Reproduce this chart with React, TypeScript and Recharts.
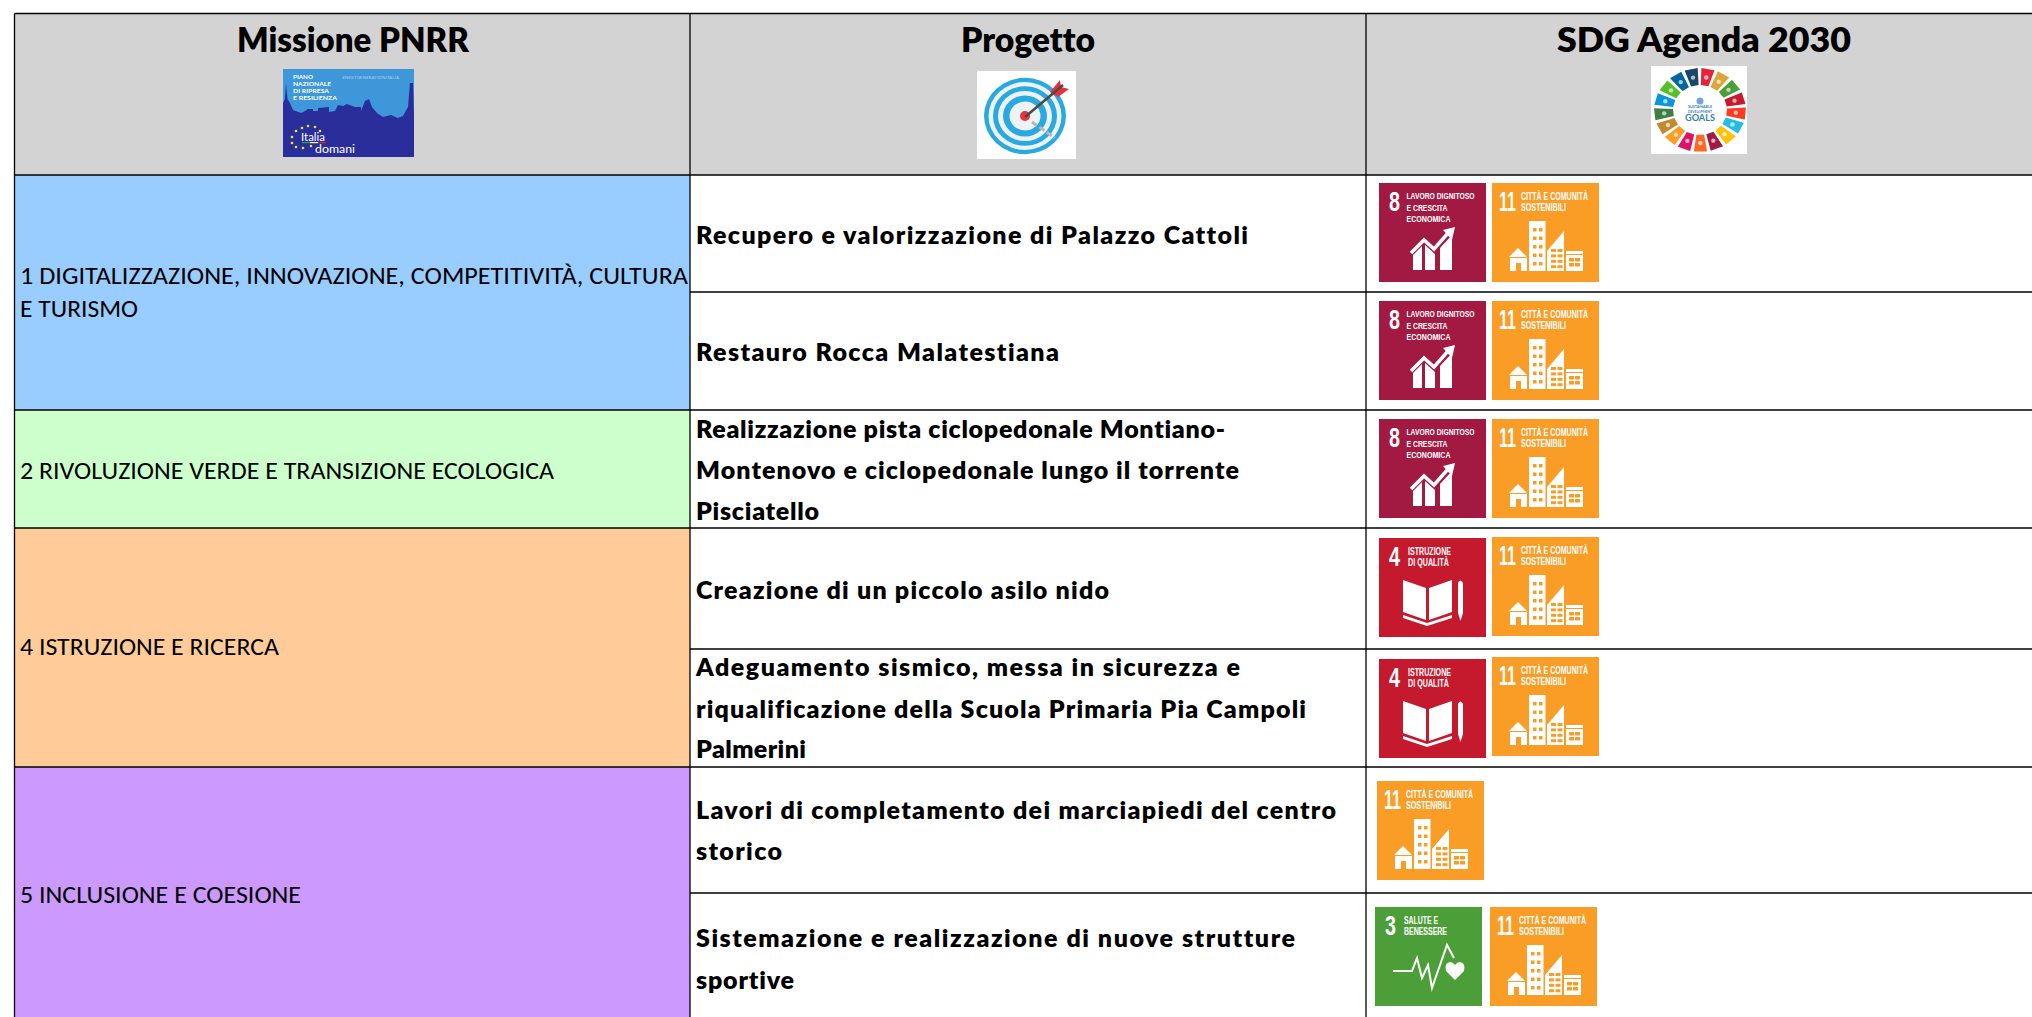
import React from "react";
import { ScatterChart, Scatter, XAxis, YAxis, ReferenceArea, ReferenceLine } from "recharts";

const W = 2032;
const H = 1017;
const HAND = "'Comic Sans MS', Lato, 'Open Sans', sans-serif";
const BODY = "Calibri, Carlito, Lato, sans-serif";
const NARROW = "'Liberation Sans Narrow', 'Liberation Sans', sans-serif";
const NO_LIGA = { fontVariantLigatures: "none" } as React.CSSProperties;

const columnEdges = [14.5, 690, 1366];
const rowEdges = [13.5, 175, 292, 410, 528, 649, 767, 893];
const missionEdges = [175, 410, 528, 767, 1017];

const headers = ["Missione PNRR", "Progetto", "SDG Agenda 2030"];
const headerX = [353, 1028, 1704];
const headerWidth = [232, 134, 294];

const missionColors = ["#99CCFF", "#CCFFCC", "#FFCC99", "#CC99FF"];
const missionLines = [
  "1 DIGITALIZZAZIONE, INNOVAZIONE, COMPETITIVITÀ, CULTURA",
  "E TURISMO",
  "2 RIVOLUZIONE VERDE E TRANSIZIONE ECOLOGICA",
  "4 ISTRUZIONE E RICERCA",
  "5 INCLUSIONE E COESIONE",
];
const missionY = [275, 308, 470, 646, 894];
const missionWidth = [668, 118, 534, 259, 281];

const projectLines = [
  "Recupero e valorizzazione di Palazzo Cattoli",
  "Restauro Rocca Malatestiana",
  "Realizzazione pista ciclopedonale Montiano-",
  "Montenovo e ciclopedonale lungo il torrente",
  "Pisciatello",
  "Creazione di un piccolo asilo nido",
  "Adeguamento sismico, messa in sicurezza e",
  "riqualificazione della Scuola Primaria Pia Campoli",
  "Palmerini",
  "Lavori di completamento dei marciapiedi del centro",
  "storico",
  "Sistemazione e realizzazione di nuove strutture",
  "sportive",
];
const projectY = [233.5, 351, 428, 469, 510, 589, 666, 708, 748, 809, 850, 937, 979];
const projectWidth = [552, 363, 529, 543, 123, 413, 544, 610, 110, 640, 86, 599, 98];

const tileGoals = [8, 11, 8, 11, 8, 11, 4, 11, 4, 11, 11, 3, 11];
const tileX = [1379, 1492, 1379, 1492, 1379, 1492, 1379, 1492, 1379, 1492, 1377, 1375, 1490];
const tileY = [183, 183, 301, 301, 419, 419, 538, 537, 659, 657, 781, 907, 907];

const goalColors: Record<number, string> = { 3: "#4C9F38", 4: "#C5192D", 8: "#A21942", 11: "#F99D26" };
const goalTitles: Record<number, string[]> = {
  3: ["SALUTE E", "BENESSERE"],
  4: ["ISTRUZIONE", "DI QUALITÀ"],
  8: ["LAVORO DIGNITOSO", "E CRESCITA", "ECONOMICA"],
  11: ["CITTÀ E COMUNITÀ", "SOSTENIBILI"],
};
const goalTitleWidth: Record<number, number[]> = {
  3: [34, 43],
  4: [43, 41],
  8: [68, 41, 44],
  11: [67, 45],
};

const wheelColors = [
  "#E5243B", "#DDA63A", "#4C9F38", "#C5192D", "#FF3A21", "#26BDE2", "#FCC30B", "#A21942", "#FD6925",
  "#DD1367", "#FD9D24", "#BF8B2E", "#3F7E44", "#0A97D9", "#56C02B", "#00689D", "#19486A",
];
const logoStars = [
  [37, 62], [32, 58], [25, 57], [19, 59], [13, 62], [9, 68], [9, 74], [13, 78], [20, 79], [28, 77],
];

const headerPoints = headers.map((label, i) => ({ x: headerX[i], y: 39, label, w: headerWidth[i] }));
const missionPoints = missionLines.map((label, i) => ({ x: 20, y: missionY[i], label, w: missionWidth[i] }));
const projectPoints = projectLines.map((label, i) => ({ x: 696, y: projectY[i], label, w: projectWidth[i] }));
const tilePoints = tileGoals.map((goal, i) => ({ x: tileX[i], y: tileY[i], goal }));
const logoPoints = [{ x: 283, y: 69 }];
const targetPoints = [{ x: 977, y: 71 }];
const wheelPoints = [{ x: 1651, y: 66 }];

const HeaderText = (p: any) => (
  <text x={p.cx} y={p.cy} textAnchor="middle" dominantBaseline="central" fontFamily={HAND} fontWeight={800}
    fontSize={33} fill="#000" style={NO_LIGA} textLength={p.payload.w} lengthAdjust="spacingAndGlyphs">{p.payload.label}</text>
);
const MissionText = (p: any) => (
  <text x={p.cx} y={p.cy} dominantBaseline="central" fontFamily={BODY} fontSize={24} fill="#000" style={NO_LIGA}
    textLength={p.payload.w} lengthAdjust="spacingAndGlyphs">{p.payload.label}</text>
);
const ProjectText = (p: any) => (
  <text x={p.cx} y={p.cy} dominantBaseline="central" fontFamily={HAND} fontWeight={800} fontSize={25} fill="#000"
    style={NO_LIGA} textLength={p.payload.w} lengthAdjust="spacing">{p.payload.label}</text>
);

const Buildings = () => (
  <g fill="#fff">
    <path d="M17 74 L26 65 L35 74 Z" />
    <path d="M18 75 H35 V88 H29 V80 H24 V88 H18 Z" />
    <rect x={37} y={38} width={16.5} height={50} />
    {[0, 1, 2, 3, 4].map((r) => [0, 1].map((c) => (
      <rect key={`${r}${c}`} x={41 + c * 6} y={45 + r * 8.5} width={3.5} height={3.5} fill="#F99D26" />
    )))}
    <path d="M55 88 V68 L72 48 V88 Z" />
    {[0, 1, 2, 3].map((r) => [0, 1].map((c) => (
      <rect key={`s${r}${c}`} x={59 + c * 6.5} y={66 + r * 5.4} width={5} height={3} fill="#F99D26" />
    )))}
    <rect x={74} y={68} width={17} height={20} />
    <rect x={74} y={71} width={17} height={1} fill="#F99D26" />
    {[0, 1].map((r) => [0, 1].map((c) => (
      <rect key={`t${r}${c}`} x={77 + c * 6} y={75 + r * 5} width={5} height={3.5} fill="#F99D26" />
    )))}
  </g>
);

const Growth = () => (
  <g>
    <path d="M34 87 V72 L43 63 V87 Z M46 87 V62 L56 71 V87 Z M61 87 V65 L73 52 V87 Z" fill="#fff" />
    <path d="M32 70 L45 57 L55 66 L70 49" fill="none" stroke="#fff" strokeWidth={3.5} />
    <path d="M64 47 L76 44 L73 57 Z" fill="#fff" />
  </g>
);

const Book = () => (
  <g fill="#fff">
    <path d="M24 42 L47 50 V82 L24 74 Z" />
    <path d="M50 50 L73 42 V74 L50 82 Z" />
    <path d="M24 77 L48 85 L73 77 V80 L48 88 L24 80 Z" />
    <path d="M79 45 Q81 40 84 45 V75 L81.5 83 L79 75 Z" />
  </g>
);

const Pulse = () => (
  <g>
    <path d="M18 64 H37 L42 51 L47 71 L53 58 L57 81 L72 38 L79 51" fill="none" stroke="#fff" strokeWidth={2} />
    <path d="M80 73 L71 64 Q69 56 75 55 Q78 55 80 58 Q82 55 85 55 Q91 56 89 64 Z" fill="#fff" />
  </g>
);

const Tile = (p: any) => {
  const goal: number = p.payload.goal;
  const lines = goalTitles[goal];
  const titleX = goal === 8 ? 27.5 : 29;
  return (
    <g transform={`translate(${p.cx} ${p.cy})`}>
      <rect width={107} height={99} fill={goalColors[goal]} />
      <text x={goal === 11 ? 7 : 10} y={18.5} dominantBaseline="central" fontFamily={NARROW}
        fontWeight={700} fontSize={27} fill="#fff" textLength={goal === 11 ? 17 : 11}
        lengthAdjust="spacingAndGlyphs">{goal}</text>
      {lines.map((t, i) => (
        <text key={t} x={titleX} y={12.5 + i * 11.7} dominantBaseline="central" fontFamily={NARROW} fontWeight={700}
          fontSize={goal === 8 ? 9.6 : 11} fill="#fff" textLength={goalTitleWidth[goal][i]} lengthAdjust="spacingAndGlyphs">{t}</text>
      ))}
      {goal === 11 && <Buildings />}
      {goal === 8 && <Growth />}
      {goal === 4 && <Book />}
      {goal === 3 && <Pulse />}
    </g>
  );
};

const Logo = (p: any) => (
  <g transform={`translate(${p.cx} ${p.cy})`}>
    <rect width={131} height={88} fill="#3D97D8" />
    <path d="M0 88 V34 L2 30 L3 14 L4.5 30 L7 34 L10 41 L18 44 L24 41 V40 H30 V42 H35 V39 L46 38 V43 L52 42 L55 36 L60 37 L64 35 L72 38 H78 V42 L82 32 L86 30 L89 38 L94 44 L100 48 L108 46 L115 49 L120 47 L125 38 L127 14 H130 L131 46 V88 Z" fill="#2A2E9B" />
    <g fill="#fff" fontFamily="Lato, sans-serif" fontWeight={700} fontSize={6.2}>
      <text x={10} y={7.7} dominantBaseline="central" textLength={20} lengthAdjust="spacingAndGlyphs">PIANO</text>
      <text x={10} y={14.7} dominantBaseline="central" textLength={38} lengthAdjust="spacingAndGlyphs">NAZIONALE</text>
      <text x={10} y={21.3} dominantBaseline="central" textLength={36} lengthAdjust="spacingAndGlyphs">DI RIPRESA</text>
      <text x={10} y={28} dominantBaseline="central" textLength={44} lengthAdjust="spacingAndGlyphs">E RESILIENZA</text>
    </g>
    <text x={59} y={8} dominantBaseline="central" fill="#A9CFEC" fontFamily="Lato, sans-serif" fontSize={3.8}
      textLength={57} lengthAdjust="spacingAndGlyphs">#NEXTGENERATIONITALIA</text>
    {logoStars.map(([x, y]) => (
      <circle key={`${x}-${y}`} cx={x} cy={y} r={1.3} fill="#F5E32A" />
    ))}
    <text x={18} y={67} dominantBaseline="central" fill="#fff" fontFamily="Lato, sans-serif" fontSize={11}
      textLength={24} lengthAdjust="spacingAndGlyphs">Italia</text>
    <rect x={19} y={73} width={8} height={1.2} fill="#2E9E4F" />
    <rect x={27} y={73} width={8} height={1.2} fill="#fff" />
    <rect x={35} y={73} width={8} height={1.2} fill="#D6263A" />
    <text x={32} y={79.5} dominantBaseline="central" fill="#fff" fontFamily="Lato, sans-serif" fontSize={11}
      textLength={40} lengthAdjust="spacingAndGlyphs">domani</text>
  </g>
);

const Target = (p: any) => {
  const radii = [41, 36.5, 32, 27, 22, 15.5];
  return (
    <g transform={`translate(${p.cx} ${p.cy})`}>
      <rect width={99} height={88} fill="#fff" />
      {radii.map((r, i) => (
        <ellipse key={r} cx={48} cy={45} rx={r} ry={r * 0.93} fill={i % 2 === 0 ? "#29A9E0" : "#EDF2F2"} />
      ))}
      <circle cx={48} cy={45} r={5} fill="#E63440" />
      <path d="M55 51 L78 67" stroke="#B8B8B8" strokeWidth={3} strokeDasharray="6 3" />
      <path d="M73 21 L83 9 L84 16 L92 18 L81 26 Z" fill="#E6323E" />
      <path d="M48 46 L86 14" stroke="#4A4A4A" strokeWidth={2.5} />
    </g>
  );
};

const Wheel = (p: any) => {
  const cx = 49;
  const cy = 44;
  const n = wheelColors.length;
  const pt = (rx: number, ry: number, a: number) => `${cx + rx * Math.sin(a)} ${cy - ry * Math.cos(a)}`;
  return (
    <g transform={`translate(${p.cx} ${p.cy})`}>
      <rect width={96} height={88} fill="#fff" />
      {wheelColors.map((c, i) => {
        const a0 = (i / n) * 2 * Math.PI + 0.03;
        const a1 = ((i + 1) / n) * 2 * Math.PI - 0.05;
        const mid = (a0 + a1) / 2;
        return (
          <g key={c}>
            <path d={`M${pt(27, 25, a0)} L${pt(46, 42, a0)} L${pt(46, 42, a1)} L${pt(27, 25, a1)} Z`} fill={c} />
            <circle cx={cx + 36 * Math.sin(mid)} cy={cy - 33 * Math.cos(mid)} r={2.2} fill="#fff" fillOpacity={0.65} />
          </g>
        );
      })}
      <circle cx={49} cy={35} r={3.5} fill="#6FA8D8" />
      <g fill="#3A7FB8" fontFamily="Lato, sans-serif" textAnchor="middle" fontWeight={700}>
        <text x={49} y={42} fontSize={4} textLength={24} lengthAdjust="spacingAndGlyphs">SUSTAINABLE</text>
        <text x={49} y={46.5} fontSize={4} textLength={24} lengthAdjust="spacingAndGlyphs">DEVELOPMENT</text>
        <text x={49} y={54.5} fontSize={9} textLength={30} lengthAdjust="spacingAndGlyphs">GOALS</text>
      </g>
    </g>
  );
};

const borderColor = "#000";

export default function App() {
  return (
    <div style={{ position: "absolute", left: 0, top: 0, width: W, height: H, overflow: "hidden", background: "#fff" }}>
      <ScatterChart width={W} height={H} margin={{ top: 0, right: 0, bottom: 0, left: 0 }}>
        <XAxis type="number" dataKey="x" domain={[0, W]} hide />
        <YAxis type="number" dataKey="y" domain={[0, H]} reversed hide />
        <ReferenceArea x1={columnEdges[0]} x2={W} y1={rowEdges[0]} y2={rowEdges[1]} fill="#D3D3D3" fillOpacity={1} stroke="none" />
        {missionColors.map((c, i) => (
          <ReferenceArea key={c} x1={columnEdges[0]} x2={columnEdges[1]} y1={missionEdges[i]} y2={missionEdges[i + 1]}
            fill={c} fillOpacity={1} stroke="none" />
        ))}
        {columnEdges.map((x) => (
          <ReferenceLine key={x} segment={[{ x, y: rowEdges[0] }, { x, y: H }]} stroke={borderColor} strokeWidth={1.3} />
        ))}
        {rowEdges.map((y) => (
          <ReferenceLine key={y} segment={[
            { x: missionEdges.includes(y) || y === rowEdges[0] ? columnEdges[0] : columnEdges[1], y },
            { x: W, y },
          ]} stroke={borderColor} strokeWidth={1.3} />
        ))}
        <Scatter data={headerPoints} shape={HeaderText} isAnimationActive={false} />
        <Scatter data={missionPoints} shape={MissionText} isAnimationActive={false} />
        <Scatter data={projectPoints} shape={ProjectText} isAnimationActive={false} />
        <Scatter data={tilePoints} shape={Tile} isAnimationActive={false} />
        <Scatter data={logoPoints} shape={Logo} isAnimationActive={false} />
        <Scatter data={targetPoints} shape={Target} isAnimationActive={false} />
        <Scatter data={wheelPoints} shape={Wheel} isAnimationActive={false} />
      </ScatterChart>
    </div>
  );
}
